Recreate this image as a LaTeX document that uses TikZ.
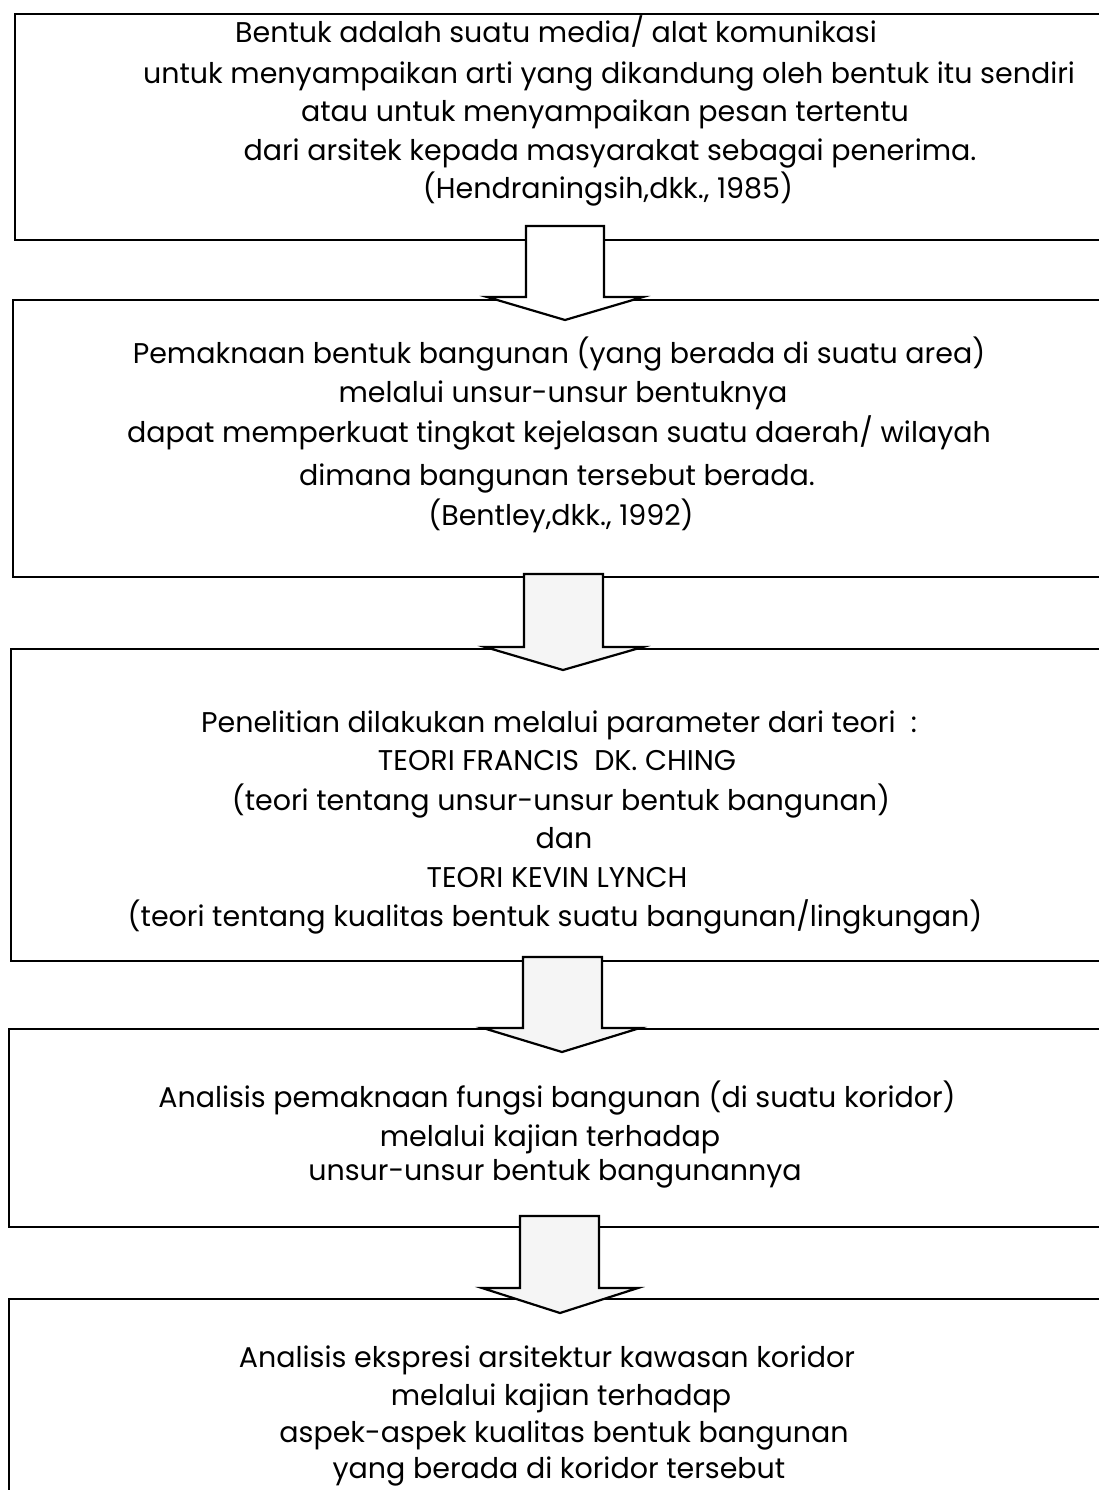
\documentclass[tikz,border=0pt]{standalone}
\usepackage{fontspec}
\setmainfont{Poppins}
\begin{document}
\begin{tikzpicture}[x=1pt,y=-1pt,
  boxnode/.style={draw=black, line width=1.6pt, anchor=north west, inner sep=0pt, minimum width=1120pt},
  txt/.style={inner sep=0pt, anchor=base, font=\fontsize{28.5}{32}\selectfont},
  blockarrow/.style={draw=black, line width=2.2pt, line join=miter},
  fillA/.style={fill=white},
  fillB/.style={fill=black!4}]
\useasboundingbox (0,0) rectangle (1099,1490);
\clip (0,0) rectangle (1099,1490);
\fill[white] (0,0) rectangle (1099,1490);

% boxes
\node[boxnode, minimum height=226pt] (box1) at (14,13) {};
\node[boxnode, minimum height=277pt] (box2) at (12,299) {};
\node[boxnode, minimum height=312pt] (box3) at (10,648) {};
\node[boxnode, minimum height=198pt] (box4) at (8,1028) {};
\node[boxnode, minimum height=240pt] (box5) at (8,1298) {};

% block arrows
\draw[blockarrow, fillA] (526,226) -- (604,226) -- (604,297) -- (643,297) -- (565,320) -- (487,297) -- (526,297) -- cycle;
\draw[blockarrow, fillB] (524,574) -- (603,574) -- (603,647) -- (643,647) -- (563,670) -- (485,647) -- (524,647) -- cycle;
\draw[blockarrow, fillB] (523,957) -- (602,957) -- (602,1028) -- (640,1028) -- (562,1052) -- (483,1028) -- (523,1028) -- cycle;
\draw[blockarrow, fillB] (520,1216) -- (599,1216) -- (599,1288) -- (638,1288) -- (560,1313) -- (482,1288) -- (520,1288) -- cycle;

% box 1 text
\node[txt] (t11) at (556,43) {Bentuk adalah suatu media/ alat komunikasi};
\node[txt] (t12) at (609,84) {untuk menyampaikan arti yang dikandung oleh bentuk itu sendiri};
\node[txt] (t13) at (605,122) {atau untuk menyampaikan pesan tertentu};
\node[txt] (t14) at (610,161) {dari arsitek kepada masyarakat sebagai penerima.};
\node[txt] (t15) at (608,198) {(Hendraningsih,dkk., 1985)};

% box 2 text
\node[txt] (t21) at (559,363) {Pemaknaan bentuk bangunan (yang berada di suatu area)};
\node[txt] (t22) at (563,402) {melalui unsur-unsur bentuknya};
\node[txt] (t23) at (559,442) {dapat memperkuat tingkat kejelasan suatu daerah/ wilayah};
\node[txt] (t24) at (557,485) {dimana bangunan tersebut berada.};
\node[txt] (t25) at (561,525) {(Bentley,dkk., 1992)};

% box 3 text
\node[txt] (t31) at (559,732) {Penelitian dilakukan melalui parameter dari teori\ \ :};
\node[txt] (t32) at (557,770) {TEORI FRANCIS\ \ DK. CHING};
\node[txt] (t33) at (561,810) {(teori tentang unsur-unsur bentuk bangunan)};
\node[txt] (t34) at (564,848) {dan};
\node[txt] (t35) at (557,887) {TEORI KEVIN LYNCH};
\node[txt] (t36) at (555,926) {(teori tentang kualitas bentuk suatu bangunan/lingkungan)};

% box 4 text
\node[txt] (t41) at (557,1107) {Analisis pemaknaan fungsi bangunan (di suatu koridor)};
\node[txt] (t42) at (550,1146) {melalui kajian terhadap};
\node[txt] (t43) at (555,1180) {unsur-unsur bentuk bangunannya};

% box 5 text
\node[txt] (t51) at (547,1367) {Analisis ekspresi arsitektur kawasan koridor};
\node[txt] (t52) at (561,1405) {melalui kajian terhadap};
\node[txt] (t53) at (564,1442) {aspek-aspek kualitas bentuk bangunan};
\node[txt] (t54) at (559,1478) {yang berada di koridor tersebut};
\end{tikzpicture}
\end{document}
